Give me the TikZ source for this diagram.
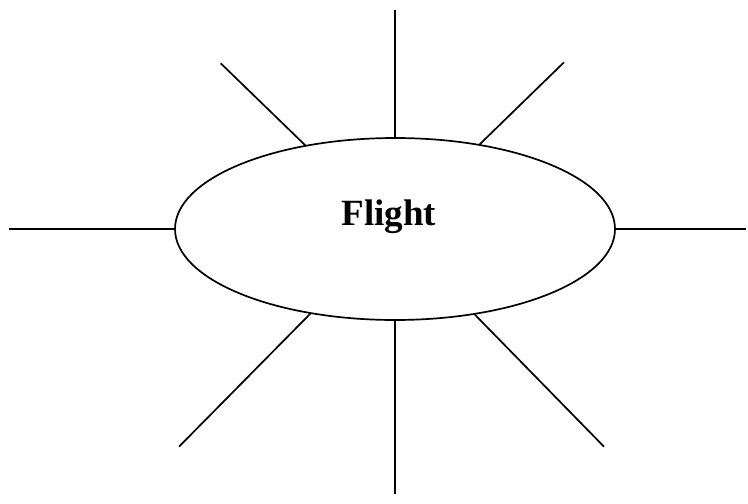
\documentclass[tikz,border=0pt]{standalone}
\usepackage{fontspec}
\setmainfont{Liberation Serif}
\usetikzlibrary{calc,positioning,shapes.geometric}

\begin{document}
\begin{tikzpicture}[x=1pt,y=-1pt,line width=1.7pt,
	spoke/.style={line width=1.7pt}]
				\useasboundingbox (0,0) rectangle (748,504);
				% 中间的椭圆
				\node[draw,ellipse,minimum width=440pt,minimum height=182pt,inner sep=0pt,outer sep=0pt] (fl) at (395,229) {};
				\node[anchor=base,font=\bfseries\fontsize{37}{44}\selectfont] (lbl) at (389,225.7) {Flight};
				% 外端点
				\coordinate (T) at (395,10);
				\coordinate (Bt) at (395,494);
				\coordinate (L) at (8.7,229);
				\coordinate (R) at (746,229);
				\coordinate (UL) at (220.7,63.3);
				\coordinate (UR) at (564,62.3);
				\coordinate (LL) at (179,446.7);
				\coordinate (LR) at (604,446.7);
				% 绘制射线
				\draw[spoke] (fl.north) -- (T);
				\draw[spoke] (fl.south) -- (Bt);
				\draw[spoke] (fl.west) -- (L);
				\draw[spoke] (fl.east) -- (R);
				\draw[spoke] (fl.137) -- (UL);
				\draw[spoke] (fl.45) -- (UR);
				\draw[spoke] (fl.225) -- (LL);
				\draw[spoke] (fl.313) -- (LR);
			\end{tikzpicture}
\end{document}
